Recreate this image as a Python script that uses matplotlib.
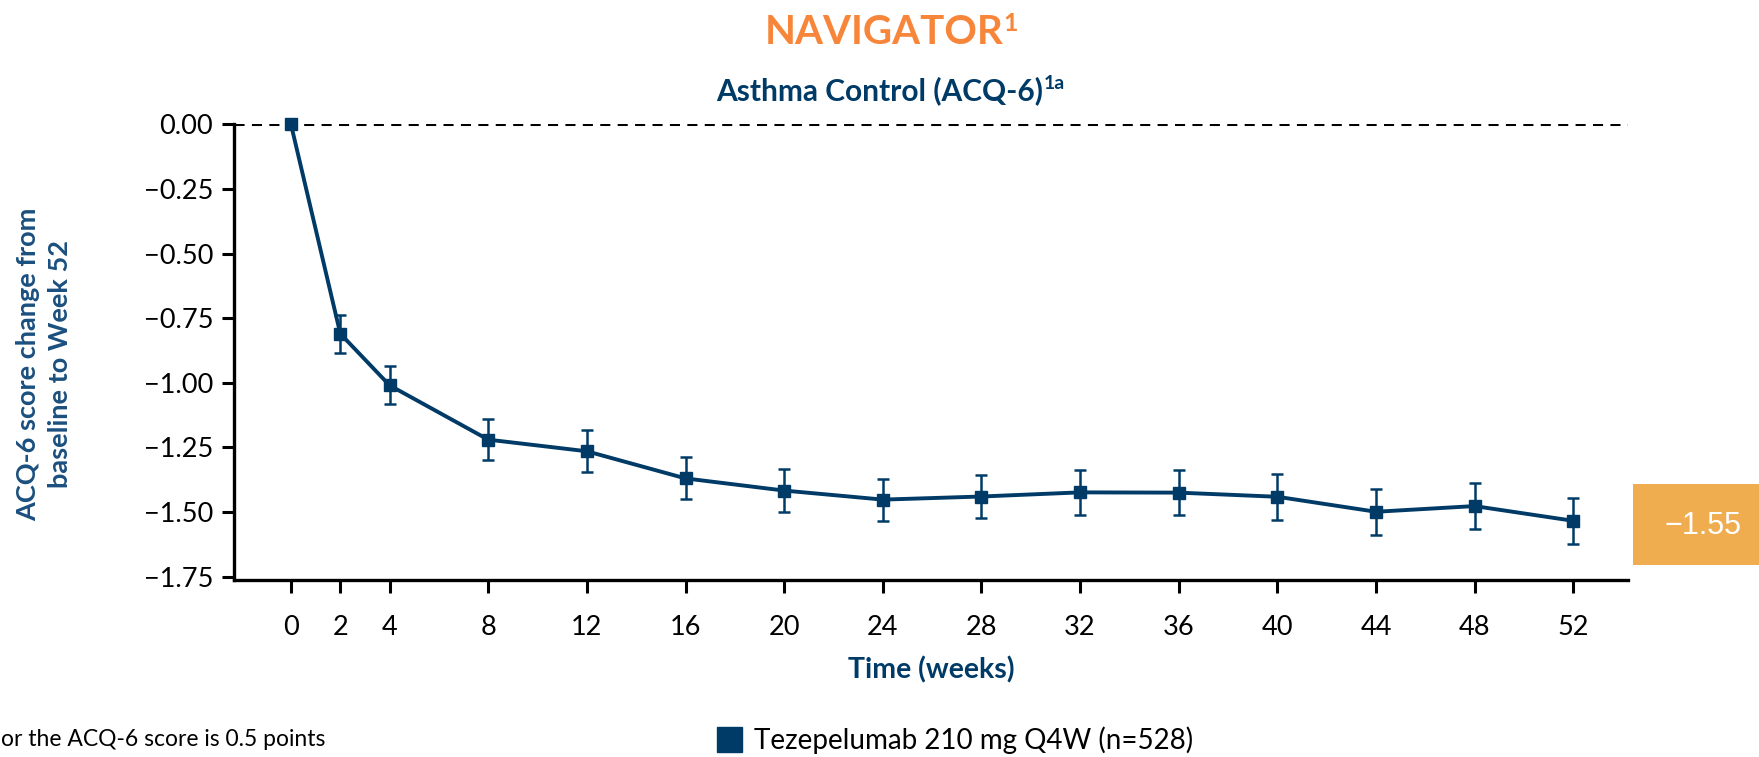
import matplotlib
matplotlib.use('Agg')
import matplotlib.pyplot as plt
from matplotlib.patches import Rectangle
from matplotlib.lines import Line2D
from matplotlib.ticker import FuncFormatter

_W = 1759
_H = 757
_DPI = 100

NAVY = '#003A66'
YLABEL_BLUE = '#1B4F7E'
ORANGE_TITLE = '#F7863A'
ORANGE_BOX = '#F0AD50'

plt.rcParams['font.family'] = ['Lato', 'DejaVu Sans']

# data
weeks = [0, 2, 4, 8, 12, 16, 20, 24, 28, 32, 36, 40, 44, 48, 52]
acq6_change = [0.00, -0.81, -1.01, -1.22, -1.265, -1.37, -1.417, -1.452, -1.440,
               -1.424, -1.425, -1.441, -1.499, -1.477, -1.534]
acq6_err = [0.0, 0.074, 0.074, 0.079, 0.081, 0.081, 0.084, 0.081, 0.085,
            0.087, 0.088, 0.088, 0.089, 0.088, 0.088]
yticks = [0.00, -0.25, -0.50, -0.75, -1.00, -1.25, -1.50, -1.75]
week52_label = '\u22121.55'
series_label = 'Tezepelumab 210 mg Q4W (n=528)'


def _px(x, y):
  # figure pixel (from top-left) -> figure fraction
  return x / _W, 1 - y / _H


def _TextWithSup(fig, cx, base_y, main, sup, size, sup_size, sup_rise, color):
  renderer = fig.canvas.get_renderer()
  t = fig.text(0, 0, main, fontsize=size, fontweight='bold', color=color, va='baseline')
  s = fig.text(0, 0, sup, fontsize=sup_size, fontweight='bold', color=color, va='baseline')
  wm = t.get_window_extent(renderer).width
  ws = s.get_window_extent(renderer).width
  left = cx - (wm + ws) / 2
  t.set_position(_px(left, base_y))
  s.set_position(_px(left + wm, base_y - sup_rise))


fig = plt.figure(figsize=(_W / _DPI, _H / _DPI), dpi=_DPI)
l, b = _px(234, 580)
r, t = _px(1628, 124.3)
ax = fig.add_axes([l, b, r - l, t - b])

ax.axhline(0, color='black', lw=2.2, ls=(0, (3.3, 2.4)), zorder=1)
ax.errorbar(weeks, acq6_change, yerr=acq6_err, color=NAVY, lw=2.8, marker='s',
            markersize=9, elinewidth=1.8, capsize=4.5, capthick=1.8,
            clip_on=False, zorder=3)

ax.set_xlim(-2.31, 54.22)
ax.set_ylim(-1.763, 0)
ax.set_xticks(weeks)
ax.set_yticks(yticks)
ax.yaxis.set_major_formatter(FuncFormatter(
    lambda v, p: ('%.2f' % v).replace('-', '\u2212') if abs(v) > 1e-9 else '0.00'))

for side in ['top', 'right']:
  ax.spines[side].set_visible(False)
for side in ['left', 'bottom']:
  ax.spines[side].set_linewidth(2.4)
ax.tick_params(axis='both', direction='out', length=9, width=2.2, labelsize=19.5,
               colors='black')
ax.tick_params(axis='x', pad=16)
ax.tick_params(axis='y', pad=6)

ax.set_xlabel('Time (weeks)', fontsize=20.5, fontweight='bold', color=NAVY, labelpad=12)

fig.text(*_px(44, 364), 'ACQ-6 score change from\nbaseline to Week 52', rotation=90,
         ha='center', va='center', fontsize=19.5, fontweight='bold', color=YLABEL_BLUE,
         linespacing=1.4, multialignment='center')

_TextWithSup(fig, 891.5, 44, 'NAVIGATOR', '1', 29, 18, 13, ORANGE_TITLE)
_TextWithSup(fig, 890.5, 100, 'Asthma Control (ACQ-6)', '1a', 21.5, 14, 11, NAVY)

# week 52 value box
bx, by = _px(1633, 565)
fig.add_artist(Rectangle((bx, by), (_W - 1633) / _W, 81 / _H, transform=fig.transFigure,
                         facecolor=ORANGE_BOX, edgecolor='none'))
fig.text(*_px(1703, 526), week52_label, ha='center', va='center', fontsize=22,
         color='white', family=['Liberation Sans', 'DejaVu Sans'])

# legend
handle = Line2D([], [], ls='none', marker='s', markersize=18, color=NAVY)
fig.legend(handles=[handle], labels=[series_label], loc='center left',
           bbox_to_anchor=_px(716, 740), frameon=False, fontsize=20,
           handlelength=0.95, handletextpad=0.4, borderpad=0, borderaxespad=0)

fig.text(*_px(1, 740), 'or the ACQ-6 score is 0.5 points', ha='left', va='center',
         fontsize=16.5, color='black')

fig.savefig('out.png', dpi=_DPI)
